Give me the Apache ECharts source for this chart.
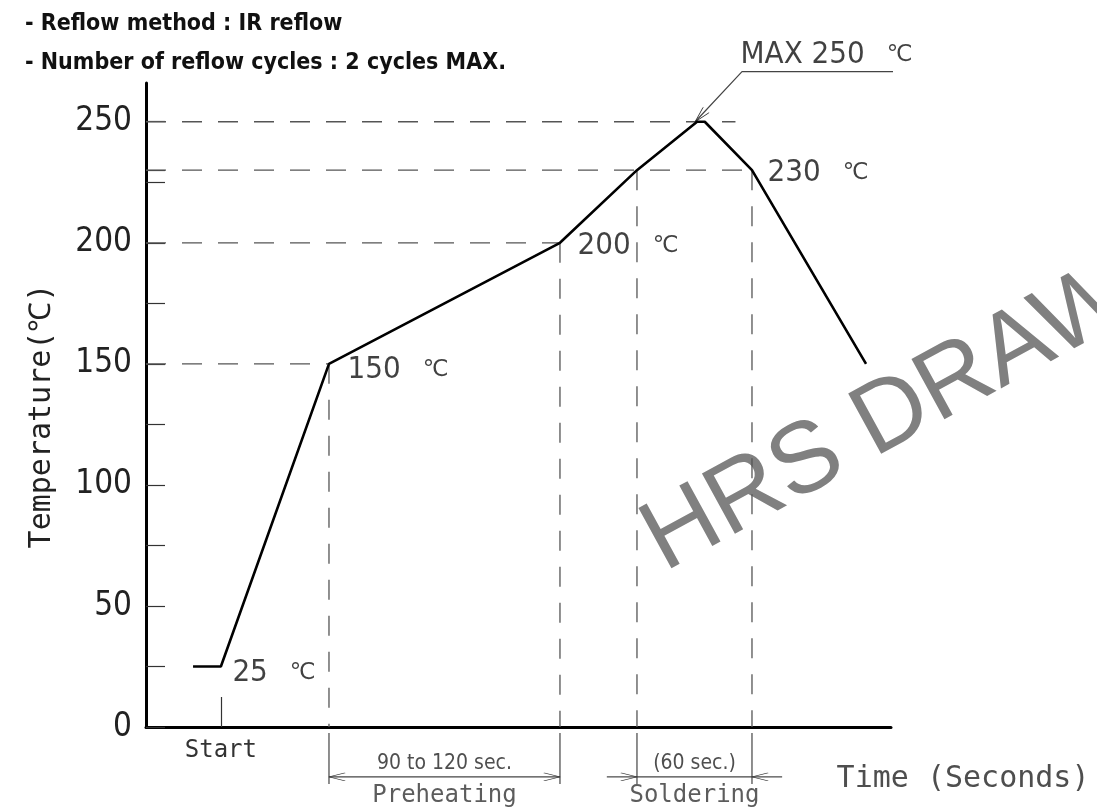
<!DOCTYPE html>
<html><head><meta charset="utf-8">
<script src="https://cdn.jsdelivr.net/npm/echarts@6/dist/echarts.min.js"></script>
<style>html,body{margin:0;padding:0;background:#fff}#c{width:1097px;height:809px}</style>
</head><body><div id="c"></div>
<script>
// ---- data (time in seconds, temperature in deg C) ----
const profileTime = [24.5, 39, 95.3, 215.6, 255.7, 287, 291, 315.6, 375];
const profileTemp = [25, 25, 150, 200, 230, 250, 250, 230, 150];
const yTickValues = [0, 25, 50, 75, 100, 125, 150, 175, 200, 225, 230, 250];
const yLabelValues = [0, 50, 100, 150, 200, 250];
const startTime = 39;
const guideTemps = [250, 230, 200, 150];
const guideEndTimes = [307, 315.6, 215.6, 95.3];
const boundaryTimes = [95.3, 215.6, 255.7, 315.6];
const boundaryTemps = [150, 200, 230, 230];
const phaseNames = ['Preheating', 'Soldering'];
const phaseDurations = ['90 to 120 sec.', '(60 sec.)'];
const notedPointIndex = [1, 2, 3, 7];
const peakTemp = 250;
const headerNotes = ['- Reflow method : IR reflow', '- Number of reflow cycles : 2 cycles MAX.'];
const xAxisTitle = 'Time (Seconds)';
const yAxisTitle = 'Temperature(℃)';

// ---- styling helpers ----
const NARROW = "'DejaVu Sans Condensed', 'Liberation Sans Narrow', 'Liberation Sans', sans-serif";
const MONO = "'DejaVu Sans Mono', monospace";
const ARROW_L = 'path://M0,4L16,0M0,4L16,8M-16,4';
const ARROW_R = 'path://M0,4L-16,0M0,4L-16,8M16,4';
const dashStyle = { type: [20, 16], color: '#555', width: 1.3 };
const thinStyle = { color: '#444', width: 1.2 };
const arrowItemStyle = { color: '#333', borderColor: '#333', borderWidth: 1.2 };
const DIM_Y = -20.6, EXT_TOP = -2.5, EXT_BOT = -23.5;
const noteOffsets = [[11, 6.6], [18, 6.6], [17, 3], [15, 3]];
const richUnit = {
  n: { fontFamily: NARROW, fontSize: 31, color: '#111' },
  u: { fontFamily: 'DejaVu Sans', fontSize: 23, color: '#111', padding: [0, 0, 0, 22] }
};

function seg(data, lineStyle) {
  return { type: 'line', data, symbol: 'none', showSymbol: true, lineStyle, itemStyle: arrowItemStyle,
           silent: true, animation: false, clip: false, z: 2 };
}
function arrow(x, y, path, rot) {
  return { value: [x, y], symbol: path, symbolSize: [32, 8], symbolRotate: rot || 0 };
}
function textLayer(data, label) {
  return { type: 'scatter', symbolSize: 1, itemStyle: { color: 'transparent' }, animation: false, silent: true,
           clip: false, z: 6, data, label: Object.assign({ show: true }, label) };
}

const series = [];
guideTemps.forEach((t, i) => series.push(seg([[0, t], [guideEndTimes[i], t]], dashStyle)));
boundaryTimes.forEach((x, i) => series.push(seg([[x, boundaryTemps[i]], [x, 0]], dashStyle)));
boundaryTimes.forEach(x => series.push(seg([[x, EXT_TOP], [x, EXT_BOT]], thinStyle)));
series.push(seg([arrow(boundaryTimes[0], DIM_Y, ARROW_L), arrow(boundaryTimes[1], DIM_Y, ARROW_R)], thinStyle));
series.push(seg([[boundaryTimes[2] - 15.7, DIM_Y], arrow(boundaryTimes[2], DIM_Y, ARROW_R)], thinStyle));
series.push(seg([[boundaryTimes[2], DIM_Y], [boundaryTimes[3], DIM_Y]], thinStyle));
series.push(seg([arrow(boundaryTimes[3], DIM_Y, ARROW_L), [boundaryTimes[3] + 15.7, DIM_Y]], thinStyle));
const leaderCorner = [profileTime[5] + 23.4, peakTemp + 20.7];
series.push(seg([arrow(profileTime[5] - 1, peakTemp, ARROW_L, 47), leaderCorner, [leaderCorner[0] + 90.6, leaderCorner[1]]], thinStyle));
series.push({ type: 'line', data: profileTime.map((t, i) => [t, profileTemp[i]]), symbol: 'none',
  lineStyle: { color: '#000', width: 2.6 }, silent: true, animation: false, z: 5 });
series.push(textLayer(
  notedPointIndex.map((idx, k) => ({ value: [profileTime[idx], profileTemp[idx]], label: { offset: noteOffsets[k] } })),
  { position: 'right', distance: 0, formatter: p => `{n|${p.value[1]}}{u|℃}`, rich: richUnit }));
series.push(textLayer([{ value: leaderCorner }],
  { position: 'right', distance: 0, offset: [-2, -17], formatter: () => `{n|MAX ${peakTemp}}{u|℃}`, rich: richUnit }));
series.push(textLayer(
  [0, 1].map(k => ({ value: [(boundaryTimes[2 * k] + boundaryTimes[2 * k + 1]) / 2, -15.06], name: phaseDurations[k] })),
  { position: 'inside', formatter: p => p.name, fontFamily: NARROW, fontSize: 21, color: '#222' }));
series.push(textLayer(
  [0, 1].map(k => ({ value: [(boundaryTimes[2 * k] + boundaryTimes[2 * k + 1]) / 2, -28.5], name: phaseNames[k] })),
  { position: 'inside', formatter: p => p.name, fontFamily: MONO, fontSize: 24, color: '#333' }));
series.push(textLayer([{ value: [359.4, -21.5], name: xAxisTitle }],
  { position: 'right', distance: 0, formatter: p => p.name, fontFamily: MONO, fontSize: 30, color: '#222' }));

const chart = echarts.init(document.getElementById('c'), null, { renderer: 'canvas' });
chart.setOption({
  animation: false,
  backgroundColor: '#fff',
  title: { text: headerNotes.join('\n'), left: 20, top: 0,
    textStyle: { fontFamily: NARROW, fontSize: 23, fontWeight: 'bold', color: '#111', lineHeight: 39 } },
  grid: { left: 146, right: 206, top: 83, bottom: 82, containLabel: false, outerBoundsMode: 'none' },
  xAxis: { type: 'value', min: 0, max: 388,
    axisLine: { show: true, onZero: false, lineStyle: { color: '#000', width: 3 } },
    axisTick: { show: true, inside: true, length: 30, customValues: [startTime], lineStyle: { color: '#333', width: 1.2 } },
    axisLabel: { show: true, customValues: [startTime], formatter: () => 'Start', margin: 12,
      fontFamily: MONO, fontSize: 24, color: '#333' },
    splitLine: { show: false } },
  yAxis: { type: 'value', min: 0, max: 266,
    axisLine: { show: true, lineStyle: { color: '#000', width: 3 } },
    axisTick: { show: true, inside: true, length: 19, customValues: yTickValues, lineStyle: { color: '#333', width: 1.2 } },
    axisLabel: { show: true, customValues: yLabelValues, margin: 14, fontFamily: NARROW, fontSize: 33, color: '#222' },
    splitLine: { show: false },
    name: yAxisTitle, nameLocation: 'middle', nameGap: 89, nameRotate: 90,
    nameTextStyle: { fontFamily: MONO, fontSize: 30, color: '#222', padding: [0, 22, 0, 0] } },
  graphic: [{ type: 'text', x: 675, y: 592, rotation: 0.5, silent: true, z: 0,
    style: { text: 'HRS DRAWING', x: 0, y: 0, fontFamily: "'Liberation Sans', Arial, sans-serif", fontSize: 100, fill: '#808080', textAlign: 'left', textVerticalAlign: 'bottom' } }],
  series
});
</script></body></html>
